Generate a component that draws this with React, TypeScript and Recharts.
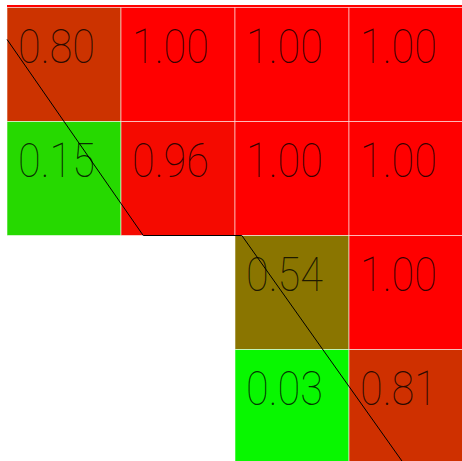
import React from 'react';
import { ScatterChart, Scatter, XAxis, YAxis, ReferenceArea } from 'recharts';

// heatmap values, row by row (null = empty cell)
const ROW_0 = [0.8, 1.0, 1.0, 1.0];
const ROW_1 = [0.15, 0.96, 1.0, 1.0];
const ROW_2 = [null, null, 0.54, 1.0];
const ROW_3 = [null, null, 0.03, 0.81];
const ROWS = [ROW_0, ROW_1, ROW_2, ROW_3];

// black polyline drawn over the grid (grid units)
const LINE_X = [0, 1.195, 2.06, 3.48];
const LINE_Y = [0.28, 2, 2, 4];

const W = 470;
const H = 470;
const MARGIN = { top: 7.5, left: 7, right: 7, bottom: 6.5 };
const CELL = (W - MARGIN.left - MARGIN.right) / 4;

const cells = ROWS.flatMap((row, r) =>
  row
    .map((v, c) => ({ x: c + 0.5, y: r + 0.5, v }))
    .filter((d) => d.v !== null)
);

const lineData = LINE_X.map((x, i) => ({ x, y: LINE_Y[i] }));

const cellColor = (v: number) =>
  `rgb(${Math.round(v * 255)}, ${Math.round((1 - v) * 255)}, 0)`;

const CellShape = (props: any) => {
  const { cx, cy, payload } = props;
  const left = cx - CELL / 2;
  const top = cy - CELL / 2;
  return (
    <g>
      <rect
        x={left}
        y={top}
        width={CELL}
        height={CELL}
        fill={cellColor(payload.v)}
        stroke="rgba(255,255,255,0.55)"
        strokeWidth={1}
      />
      <text
        x={left + 11}
        y={top + 55.5}
        fontFamily="Roboto, 'DejaVu Sans', sans-serif"
        fontWeight={100}
        fontSize={48}
        textLength={77}
        lengthAdjust="spacingAndGlyphs"
        fill="#000"
        fillOpacity={0.8}
      >
        {payload.v.toFixed(2)}
      </text>
    </g>
  );
};

export default function App() {
  return (
    <div
      style={{
        position: 'absolute',
        left: 0,
        top: 0,
        width: 462,
        height: 461,
        overflow: 'hidden',
        background: '#fff',
      }}
    >
      <ScatterChart width={W} height={H} margin={MARGIN}>
        <XAxis type="number" dataKey="x" domain={[0, 4]} hide />
        <YAxis type="number" dataKey="y" domain={[0, 4]} reversed hide />
        <ReferenceArea
          x1={0}
          x2={4}
          y1={-0.022}
          y2={0}
          fill="#ff0000"
          fillOpacity={1}
          ifOverflow="visible"
        />
        <Scatter data={cells} shape={CellShape} isAnimationActive={false} />
        <Scatter
          data={lineData}
          line={{ stroke: '#000', strokeWidth: 1 }}
          shape={() => <g />}
          isAnimationActive={false}
        />
      </ScatterChart>
    </div>
  );
}
